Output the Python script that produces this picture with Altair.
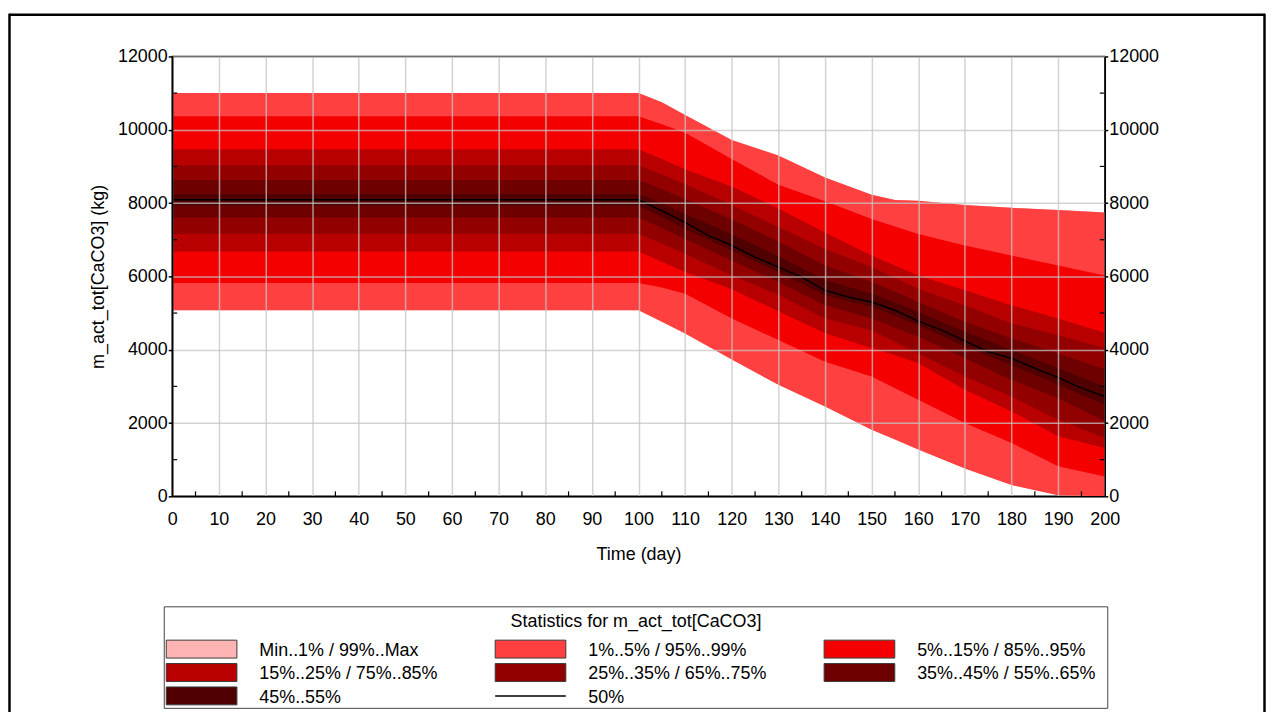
import altair as alt
import pandas as pd

# ---------------- data ----------------
days = [0, 100, 105, 110, 120, 130, 140, 150, 155, 160, 170, 180, 190, 200]
p_max = [11000, 11000, 10750, 10400, 9720, 9300, 8700, 8230, 8082, 8063, 7950, 7870, 7810, 7746]
p99 = [11000, 11000, 10750, 10400, 9720, 9300, 8700, 8230, 8082, 8063, 7950, 7870, 7810, 7746]
p95 = [10371, 10371, 10150, 9918, 9200, 8500, 8050, 7566, 7360, 7159, 6842, 6570, 6298, 6027]
p85 = [9466, 9466, 9200, 8923, 8450, 7850, 7200, 6570, 6300, 6027, 5620, 5213, 4850, 4461]
p75 = [9032, 9032, 8780, 8516, 7950, 7350, 6750, 6253, 5960, 5665, 5213, 4715, 4398, 4036]
p65 = [8633, 8633, 8380, 8109, 7550, 6950, 6300, 5846, 5580, 5303, 4760, 4308, 3900, 3466]
p55 = [8245, 8245, 8000, 7700, 7150, 6550, 5900, 5530, 5290, 5031, 4489, 3991, 3493, 2995]
p45 = [7928, 7928, 7620, 7295, 6706, 6117, 5484, 5167, 4920, 4670, 4081, 3584, 3041, 2500]
p35 = [7610, 7610, 7320, 7023, 6434, 5846, 5213, 4851, 4600, 4353, 3765, 3176, 2679, 2050]
p25 = [7158, 7158, 6900, 6616, 6027, 5500, 4850, 4534, 4220, 3900, 3267, 2724, 2090, 1600]
p15 = [6679, 6679, 6400, 6120, 5650, 5050, 4450, 4050, 3850, 3629, 2905, 2317, 1638, 1320]
p5 = [5818, 5818, 5700, 5530, 4850, 4262, 3674, 3267, 2950, 2633, 2000, 1457, 824, 540]
p1 = [5077, 5077, 4760, 4444, 3730, 3041, 2453, 1819, 1550, 1280, 760, 310, 30, 0]
p_min = [5077, 5077, 4760, 4444, 3730, 3041, 2453, 1819, 1550, 1280, 760, 310, 30, 0]

median_days = [0, 100, 105, 110, 115, 120, 125, 130, 135, 140, 145, 150, 155, 160,
               165, 170, 175, 180, 185, 190, 195, 200]
median = [8090, 8090, 7792, 7475, 7113, 6850, 6525, 6254, 5982, 5620, 5438, 5303, 5077,
          4780, 4534, 4240, 3946, 3765, 3493, 3240, 2951, 2724]

levels = ["Min..1% / 99%..Max", "1%..5% / 95%..99%", "5%..15% / 85%..95%",
          "15%..25% / 75%..85%", "25%..35% / 65%..75%", "35%..45% / 55%..65%",
          "45%..55%"]
colors = ["#FFB4B4", "#FF4040", "#F50000", "#B80000", "#920000", "#6E0000", "#500000"]
bounds = [(p_min, p_max), (p1, p99), (p5, p95), (p15, p85), (p25, p75), (p35, p65), (p45, p55)]
median_label = "50%"

x_ticks = list(range(0, 201, 10))
x_minor = list(range(5, 200, 10))
y_ticks = list(range(0, 12001, 2000))
y_minor = list(range(1000, 12000, 2000))

legend_title = "Statistics for m_act_tot[CaCO3]"
legend_cols = [0, 1, 2, 0, 1, 2, 0, 1]
legend_rows = [0, 0, 0, 1, 1, 1, 2, 2]

FONT = "Liberation Sans"
W, H = 937, 442

xs = alt.Scale(domain=[0, 200], nice=False, zero=False)
ys = alt.Scale(domain=[0, 12000], nice=False, zero=False)

# ---------------- main plot ----------------
band_layers = []
for name, col, (lo, hi) in zip(levels, colors, bounds):
    df = pd.DataFrame({"day": days, "lo": lo, "hi": hi})
    band_layers.append(
        alt.Chart(df).mark_area(color=col, opacity=1, interpolate="linear").encode(
            x=alt.X("day:Q", scale=xs, axis=None),
            y=alt.Y("lo:Q", scale=ys, axis=None),
            y2="hi:Q",
        )
    )

med_df = pd.DataFrame({"day": median_days, "value": median})
median_line = alt.Chart(med_df).mark_line(color="black", strokeWidth=1.5).encode(
    x=alt.X("day:Q", scale=xs, axis=alt.Axis(
        values=x_ticks, format="d", title="Time (day)", grid=True,
        gridColor="#c4c4c4", gridOpacity=0.75, gridWidth=1.5, ticks=False,
        labelPadding=14, titlePadding=17, domainColor="black", domainWidth=1.5,
        labelFontSize=18, titleFontSize=18, titleFontWeight="normal",
        labelColor="black", titleColor="black", labelFont=FONT, titleFont=FONT,
        zindex=1, labelFlush=False)),
    y=alt.Y("value:Q", scale=ys, axis=alt.Axis(
        values=y_ticks, format="d", title="m_act_tot[CaCO3] (kg)", grid=True,
        gridColor="#c4c4c4", gridOpacity=0.75, gridWidth=1.5, tickSize=4,
        tickColor="black", tickWidth=1.5, labelPadding=1, titlePadding=10,
        domainColor="black", domainWidth=1.5, labelFontSize=18, titleFontSize=18,
        titleFontWeight="normal", labelColor="black", titleColor="black",
        labelFont=FONT, titleFont=FONT, zindex=1, labelFlush=False)),
)

xminor_df = pd.DataFrame({"d": x_minor})
x_minor_ticks = alt.Chart(xminor_df).mark_rule(color="black", strokeWidth=1.2).encode(
    x=alt.X("d:Q", scale=xs, axis=None),
    y=alt.value(H), y2=alt.value(H - 5),
)

yminor_df = pd.DataFrame({"v": y_minor})
y_minor_left = alt.Chart(yminor_df).mark_rule(color="black", strokeWidth=1.2).encode(
    y=alt.Y("v:Q", scale=ys, axis=None),
    x=alt.value(0), x2=alt.value(5),
)
y_minor_right = alt.Chart(yminor_df).mark_rule(color="black", strokeWidth=1.2).encode(
    y=alt.Y("v:Q", scale=ys, axis=alt.Axis(
        orient="right", values=y_ticks, format="d", title=None, grid=False,
        tickSize=3, tickColor="black", tickWidth=1.5, labelPadding=1,
        domainColor="black", domainWidth=1.5, labelFontSize=18,
        labelColor="black", labelFont=FONT, zindex=1, labelFlush=False)),
    x=alt.value(W - 5), x2=alt.value(W),
)

main = alt.layer(*band_layers, median_line, x_minor_ticks, y_minor_left,
                 y_minor_right).resolve_axis(x="independent", y="independent")

# ---------------- legend (own scales) ----------------
leg_df = pd.DataFrame({
    "label": levels + [median_label],
    "col": legend_cols,
    "row": legend_rows,
})
lx = alt.Scale(domain=[0, 2], range=[29.5, 690.5])
ly = alt.Scale(domain=[0, 2], range=[595.5, 642.5])
rect_shape = "M-1,-0.2535L1,-0.2535L1,0.2535L-1,0.2535Z"

swatches = alt.Chart(leg_df[leg_df["label"] != median_label]).mark_point(
    shape=rect_shape, size=5041, filled=True, opacity=1, stroke="#3a3a3a",
    strokeWidth=1).encode(
    x=alt.X("col:Q", scale=lx, axis=None),
    y=alt.Y("row:Q", scale=ly, axis=None),
    fill=alt.Fill("label:N", scale=alt.Scale(domain=levels, range=colors), legend=None),
)
line_swatch = alt.Chart(leg_df[leg_df["label"] == median_label]).mark_point(
    shape="M-1,0L1,0", size=5041, filled=False, opacity=1, color="black",
    strokeWidth=1.5).encode(
    x=alt.X("col:Q", scale=lx, axis=None),
    y=alt.Y("row:Q", scale=ly, axis=None),
)
leg_labels = alt.Chart(leg_df).mark_text(
    align="left", baseline="middle", dx=58, dy=2, fontSize=18, font=FONT,
    color="black").encode(
    x=alt.X("col:Q", scale=lx, axis=None),
    y=alt.Y("row:Q", scale=ly, axis=None),
    text="label:N",
)
title_df = pd.DataFrame({"t": [legend_title]})
leg_title = alt.Chart(title_df).mark_text(
    align="center", baseline="middle", fontSize=18, font=FONT, color="black").encode(
    x=alt.value(466), y=alt.value(568), text="t:N")

one = pd.DataFrame({"k": [0]})
leg_box = alt.Chart(one).mark_rect(fill=None, stroke="#444444", strokeWidth=1).encode(
    x=alt.value(-8), x2=alt.value(940), y=alt.value(553), y2=alt.value(655))
frame_top = alt.Chart(one).mark_rule(color="black", strokeWidth=2.5).encode(
    x=alt.value(-164), x2=alt.value(1098), y=alt.value(-42))
frame_left = alt.Chart(one).mark_rule(color="black", strokeWidth=2.5).encode(
    x=alt.value(-163.5), y=alt.value(-43), y2=alt.value(660))
frame_right = alt.Chart(one).mark_rule(color="black", strokeWidth=2.5).encode(
    x=alt.value(1097.5), y=alt.value(-43), y2=alt.value(660))

legend = alt.layer(leg_box, swatches, line_swatch, leg_labels, leg_title,
                   frame_top, frame_left, frame_right)

chart = alt.layer(main, legend).resolve_scale(
    x="independent", y="independent"
).properties(
    width=W, height=H,
    autosize=alt.AutoSizeParams(type="none"),
    padding={"left": 165, "top": 47, "right": 162, "bottom": 215},
).configure_view(stroke="black", strokeWidth=1.5)

chart.save("out.html", embed_options={"renderer": "svg", "actions": False})
